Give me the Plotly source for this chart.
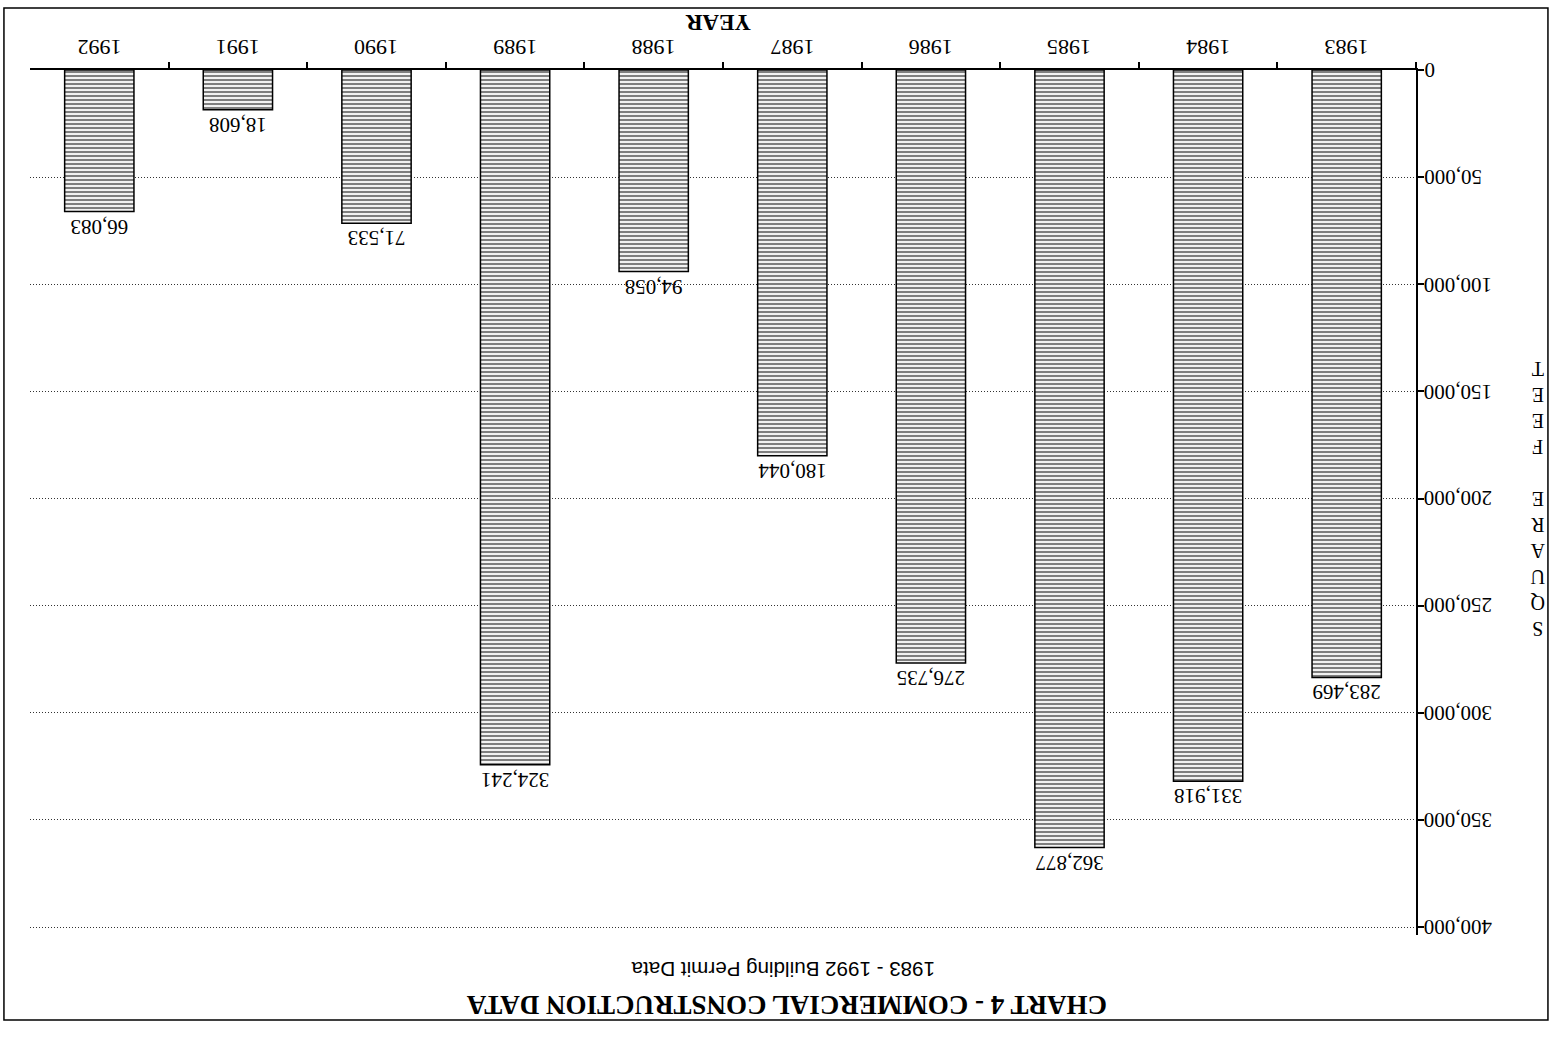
import plotly.graph_objects as go

# Commercial construction, square feet permitted per year
years = ["1983", "1984", "1985", "1986", "1987", "1988", "1989", "1990", "1991", "1992"]
square_feet = [283469, 331918, 362877, 276735, 180044, 94058, 324241, 71533, 18608, 66083]
y_ticks = [0, 50000, 100000, 150000, 200000, 250000, 300000, 350000, 400000]

title_text = "<b>CHART 4 - COMMERCIAL CONSTRUCTION DATA</b>"
subtitle_text = "1983 - 1992 Building Permit Data"
x_title = "<b>YEAR</b>"
y_title = "<br>".join(list("SQUARE")) + "<br><br>" + "<br>".join(list("FEET"))

serif = "Liberation Serif"

fig = go.Figure(
    go.Bar(
        x=years,
        y=square_feet,
        width=0.5,
        marker=dict(
            color="white",
            line=dict(color="black", width=1.5),
            pattern=dict(shape="-", fgcolor="black", bgcolor="white", size=4, solidity=0.55),
        ),
        text=[f"{v:,}" for v in square_feet],
        textposition="outside",
        textangle=180,
        constraintext="none",
        cliponaxis=False,
        textfont=dict(family=serif, size=21, color="black"),
    )
)

# Upside-down tick labels, placed on the axes' own scales
tick_notes = []
for i, yr in enumerate(years):
    tick_notes.append(dict(
        text=yr, xref="x", yref="paper", x=i, y=1.0266,
        xanchor="center", yanchor="middle", showarrow=False, textangle=180,
        font=dict(family=serif, size=22, color="black"),
    ))
for v in y_ticks:
    tick_notes.append(dict(
        text=f"{v:,}", xref="paper", yref="y", x=1.0043, y=v,
        xanchor="left", yanchor="middle", showarrow=False, textangle=180,
        font=dict(family=serif, size=21, color="black"),
    ))

fig.update_layout(
    width=1554,
    height=1040,
    margin=dict(l=30, r=138, t=70, b=105),
    paper_bgcolor="white",
    plot_bgcolor="white",
    showlegend=False,
    font=dict(family=serif, color="black"),
    xaxis=dict(
        type="category",
        categoryorder="array",
        categoryarray=years,
        range=[9.5, -0.5],
        side="top",
        showline=True,
        linecolor="black",
        linewidth=2,
        ticks="outside",
        tickson="boundaries",
        ticklen=6,
        tickwidth=1.5,
        tickcolor="black",
        showticklabels=False,
        showgrid=False,
        zeroline=False,
    ),
    yaxis=dict(
        range=[403700, 0],
        side="right",
        tickvals=y_ticks,
        showline=True,
        linecolor="black",
        linewidth=2,
        ticks="outside",
        ticklen=6,
        tickwidth=1.5,
        tickcolor="black",
        showticklabels=False,
        showgrid=True,
        gridcolor="#333333",
        gridwidth=1,
        griddash="1px,2px",
        zeroline=False,
    ),
    annotations=tick_notes + [
        dict(text=x_title, xref="paper", yref="paper", x=0.4964, y=1.0555,
             xanchor="center", yanchor="middle",
             showarrow=False, textangle=180, font=dict(family=serif, size=23)),
        dict(text=title_text, xref="paper", yref="paper", x=0.5462, y=-0.0809,
             xanchor="center", yanchor="middle",
             showarrow=False, textangle=180, font=dict(family=serif, size=27)),
        dict(text=subtitle_text, xref="paper", yref="paper", x=0.5433, y=-0.0405,
             xanchor="center", yanchor="middle",
             showarrow=False, textangle=180, font=dict(family="Liberation Sans", size=20.6)),
        dict(text=y_title, xref="paper", yref="paper", x=1.0873, y=0.504,
             xanchor="center", yanchor="middle",
             showarrow=False, textangle=180, font=dict(family=serif, size=20)),
    ],
    shapes=[
        dict(type="rect", xref="paper", yref="paper",
             x0=-0.0188, x1=1.0952, y0=-0.0983, y1=1.0717,
             line=dict(color="black", width=1.5)),
    ],
)

fig.write_html("out.html")
